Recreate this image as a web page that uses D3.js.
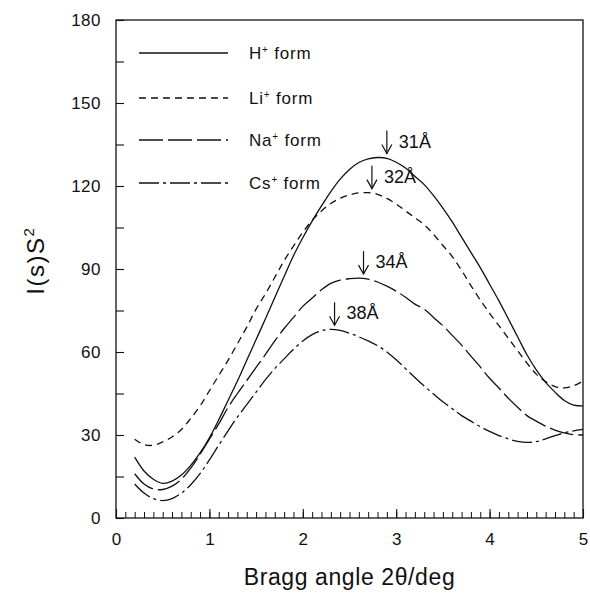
<!DOCTYPE html>
<html>
<head>
<meta charset="utf-8">
<script src="https://cdn.jsdelivr.net/npm/d3@7"></script>
<style>
  body { margin: 0; background: #fff; }
  svg text { font-family: "Liberation Sans", Arial, sans-serif; fill: #111; }
</style>
</head>
<body>
<div id="chart"></div>
<script>
'use strict';

// Data
const xGrid = [0.2, 0.3, 0.4, 0.5, 0.6, 0.7, 0.8, 0.9, 1.0, 1.1, 1.2, 1.3, 1.4, 1.5, 1.6, 1.7, 1.8, 1.9, 2.0,
    2.1, 2.2, 2.3, 2.4, 2.5, 2.6, 2.7, 2.8, 2.9, 3.0, 3.1, 3.2, 3.3, 3.4, 3.5, 3.6, 3.7, 3.8, 3.9, 4.0,
    4.1, 4.2, 4.3, 4.4, 4.5, 4.6, 4.7, 4.8, 4.9, 5.0];

const hForm = [22, 17, 14, 12.5, 13.3, 15.5, 19, 23.5, 29, 35.5, 42.5, 49.5, 57, 64.5, 72, 79.7, 87.3, 94.8, 101.3,
    107.3, 112.8, 118, 122.5, 126, 128.5, 129.8, 130.3, 130, 128.6, 126.5, 123.5, 120.5, 116.5, 112, 107, 101.5, 96, 90.5, 84.5,
    78.5, 72, 65.5, 59, 53.5, 49, 45.5, 42.5, 40.8, 40.5];

const liForm = [28.5, 26.5, 26.3, 27.5, 29.3, 32, 36, 40.5, 46, 51.5, 57, 63, 69, 75.5, 81, 87, 93, 98.3, 103.3,
    107.6, 111, 113.7, 115.6, 116.8, 117.5, 117.6, 117, 115.5, 113.5, 111, 108.5, 106, 102.5, 98.5, 94.5, 89.5, 84, 78.8, 74,
    69.5, 65, 60.5, 56, 52, 49.3, 47.5, 47, 47.8, 49.5];

const naForm = [16, 12.3, 10.5, 10.3, 11.5, 14, 18, 23, 28.5, 34, 40, 45, 49.7, 54.4, 59.1, 64, 68.5, 72.5, 76.5,
    79.5, 82.5, 84.8, 86, 86.5, 86.7, 86.3, 85.3, 83.8, 82, 79.8, 77.3, 75.5, 72.5, 69.5, 66, 62.5, 58.5, 54.6, 50.5,
    47, 43.3, 40, 37, 35, 33.2, 31.8, 30.8, 30.1, 30];

const csForm = [12.3, 9, 7, 6.3, 7, 9, 12, 16, 21, 26.3, 31.5, 36.5, 41, 45.5, 50, 54, 57.5, 61, 64,
    66.3, 67.7, 68.2, 67.8, 66.8, 65.5, 64, 62.3, 60, 57.2, 54, 50.8, 47.7, 44.8, 42, 39.5, 37, 35, 33, 31.3,
    29.8, 28.6, 27.7, 27.3, 27.6, 28.6, 29.8, 30.8, 31.5, 32];

const seriesNames = ['H', 'Li', 'Na', 'Cs'];
const seriesValues = [hForm, liForm, naForm, csForm];
const seriesDash = [null, '7,5', '24,5', '20,4,3,4'];

const peakLabels = ['31Å', '32Å', '34Å', '38Å'];
const peakX = [2.9, 2.74, 2.65, 2.34];
const peakY = [130.3, 117.6, 86.7, 68.2];

const yTicks = [0, 30, 60, 90, 120, 150, 180];
const xTicks = [0, 1, 2, 3, 4, 5];

// Config
const w = 590, h = 593;
const margin = {top: 20, right: 7, bottom: 75, left: 116};

const svg = d3.select('#chart')
    .append('svg')
    .attr('width', w)
    .attr('height', h);

const xScale = d3.scaleLinear().domain([0, 5]).range([margin.left, w - margin.right]);
const yScale = d3.scaleLinear().domain([0, 180]).range([h - margin.bottom, margin.top]);

// Frame
svg.append('rect')
    .attr('x', xScale(0))
    .attr('y', yScale(180))
    .attr('width', xScale(5) - xScale(0))
    .attr('height', yScale(0) - yScale(180))
    .attr('fill', 'none')
    .attr('stroke', '#111')
    .attr('stroke-width', 1.3);

// Y axis: ticks every 15, labels every 30
const yAxis = d3.axisLeft(yScale)
    .tickValues(d3.range(0, 181, 15))
    .tickSize(-8)
    .tickPadding(15)
    .tickFormat(d => yTicks.includes(d) ? d : '');

const yG = svg.append('g')
    .attr('transform', `translate(${xScale(0)},0)`)
    .call(yAxis);
yG.select('.domain').remove();
yG.selectAll('.tick line').attr('stroke', '#111').attr('stroke-width', 1.1);
yG.selectAll('.tick text').style('font-size', '17px').style('letter-spacing', '0.5px').attr('fill', '#111');

// X axis: minor ticks every 0.1, labelled integers
const xMinor = d3.axisBottom(xScale)
    .tickValues(d3.range(0, 51).map(d => d / 10))
    .tickSize(-6)
    .tickFormat('');
const xMinorG = svg.append('g')
    .attr('transform', `translate(0,${yScale(0)})`)
    .call(xMinor);
xMinorG.select('.domain').remove();
xMinorG.selectAll('.tick line').attr('stroke', '#111').attr('stroke-width', 1);

const xAxis = d3.axisBottom(xScale)
    .tickValues(xTicks)
    .tickSize(-9)
    .tickPadding(15)
    .tickFormat(d3.format('d'));
const xG = svg.append('g')
    .attr('transform', `translate(0,${yScale(0)})`)
    .call(xAxis);
xG.select('.domain').remove();
xG.selectAll('.tick line').attr('stroke', '#111').attr('stroke-width', 1.1);
xG.selectAll('.tick text').style('font-size', '17px').attr('fill', '#111');

// Axis titles
svg.append('text')
    .attr('x', (xScale(0) + xScale(5)) / 2)
    .attr('y', 585)
    .attr('text-anchor', 'middle')
    .style('font-size', '23px')
    .style('letter-spacing', '0.6px')
    .text('Bragg angle 2θ/deg');

const yTitle = svg.append('text')
    .attr('transform', `translate(44,${yScale(93)}) rotate(-90)`)
    .attr('text-anchor', 'middle')
    .style('font-size', '24px')
    .style('letter-spacing', '1.5px');
yTitle.append('tspan').text('I(s)S');
yTitle.append('tspan').attr('dy', -10).style('font-size', '15px').text('2');

// Curves
const lineMaker = d3.line()
    .curve(d3.curveCatmullRom)
    .x(d => xScale(d[0]))
    .y(d => yScale(d[1]));

seriesValues.forEach((vals, i) => {
    svg.append('path')
        .datum(xGrid.map((x, j) => [x, vals[j]]))
        .attr('d', lineMaker)
        .attr('fill', 'none')
        .attr('stroke', '#111')
        .attr('stroke-width', 1.3)
        .attr('stroke-dasharray', seriesDash[i]);
});

// Legend
const legendY = [53, 98, 140, 183];
seriesNames.forEach((name, i) => {
    svg.append('line')
        .attr('x1', 139).attr('x2', 228)
        .attr('y1', legendY[i]).attr('y2', legendY[i])
        .attr('stroke', '#111')
        .attr('stroke-width', 1.3)
        .attr('stroke-dasharray', seriesDash[i]);
    const t = svg.append('text')
        .attr('x', 249)
        .attr('y', legendY[i] + 6)
        .style('font-size', '17px')
        .style('letter-spacing', '0.8px');
    t.append('tspan').text(name);
    t.append('tspan').attr('dy', -6).style('font-size', '10px').text('+');
    t.append('tspan').attr('dy', 6).text(' form');
});

// Peak arrows and d-spacing labels
peakLabels.forEach((label, i) => {
    const px = xScale(peakX[i]);
    const tip = yScale(peakY[i]) - 4;
    svg.append('line')
        .attr('x1', px).attr('x2', px)
        .attr('y1', tip - 23).attr('y2', tip)
        .attr('stroke', '#111')
        .attr('stroke-width', 1.2);
    svg.append('path')
        .attr('d', `M${px - 5},${tip - 9}L${px},${tip}L${px + 5},${tip - 9}`)
        .attr('fill', 'none')
        .attr('stroke', '#111')
        .attr('stroke-width', 1.2);
    svg.append('text')
        .attr('x', px + 12)
        .attr('y', tip - 6)
        .style('font-size', '18px')
        .text(label);
});
</script>
</body>
</html>
